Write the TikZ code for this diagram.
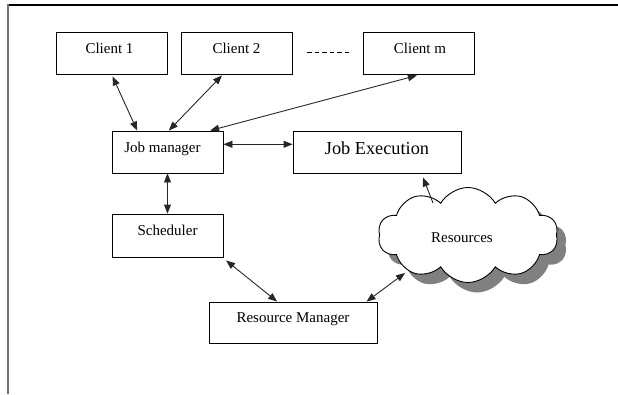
\documentclass[tikz,border=0pt]{standalone}
\usepackage{fontspec}
\setmainfont{Liberation Serif}
\usetikzlibrary{arrows.meta,shapes.symbols}
\begin{document}
\begin{tikzpicture}[x=1pt,y=-1pt,
  box/.style={draw=black,line width=0.9pt,rectangle,inner sep=0pt,
    minimum width=111pt,minimum height=42pt,
    font=\fontsize{15}{18}\selectfont,text height=6pt,text depth=6pt},
  conn/.style={draw=black!85,line width=0.9pt,{Triangle[length=9pt,width=7pt]}-{Triangle[length=9pt,width=7pt]}},
  oneway/.style={draw=black!85,line width=0.9pt,-{Triangle[length=9pt,width=7pt]}},
  cloudshape/.style={cloud,cloud puffs=10,cloud puff arc=120,cloud ignores aspect,
    minimum width=180pt,minimum height=95pt,inner sep=0pt}]
\useasboundingbox (0,0) rectangle (618,394);
% frame
\draw[black,line width=1.2pt] (8,5) -- (618,5);
\draw[black!55,line width=1.8pt] (8.3,4.4) -- (8.3,394);
% boxes
\node[box] (c1) at (111.5,53) {Client 1\hspace*{4pt}};
\node[box] (c2) at (236.5,53) {Client 2};
\node[box] (cm) at (418.5,53) {\hspace*{3pt}Client m};
\node[box] (jm) at (167.5,152) {Job manager\hspace*{10pt}};
\node[box,minimum width=168pt,font=\fontsize{18.3}{22}\selectfont,text height=8pt,text depth=4pt] (je) at (377,152) {Job Execution};
\node[box,minimum height=43pt] (sch) at (167.5,235.5) {Scheduler};
\node[box,minimum width=168pt,minimum height=41pt] (rm) at (293,322.5) {Resource Manager};
% cloud
\node[cloudshape,fill=black!50,draw=none] (cshadow) at (477,245) {};
\node[cloudshape,fill=white,draw=black,line width=0.9pt] (cl) at (468,235) {};
\node[anchor=base,inner sep=0pt,font=\fontsize{15}{18}\selectfont] (restext) at (462,242) {Resources};
% dashes
\draw[line width=0.8pt,dash pattern=on 4.5pt off 3pt] ([xshift=15pt,yshift=1pt]c2.east) -- ([xshift=-14pt,yshift=1pt]cm.west);
% connectors
\draw[conn] ([xshift=57pt,yshift=-2pt]c1.south west) -- ([xshift=25.6pt]jm.north west);
\draw[conn] ([xshift=41.4pt,yshift=-1pt]c2.south west) -- ([xshift=57.3pt]jm.north west);
\draw[conn] ([xshift=54.3pt,yshift=-1pt]cm.south west) -- ([xshift=98.6pt]jm.north west);
\draw[conn] ([yshift=7.7pt]jm.east) -- ([yshift=7.7pt]je.west);
\draw[conn] (jm.south) -- (sch.north);
\draw[oneway] ([xshift=-35pt,yshift=32pt]cl.center) -- ([xshift=46pt,yshift=-4pt]je.south);
\draw[conn] ([xshift=2.6pt,yshift=-3pt]sch.south east) -- ([xshift=68.6pt]rm.north west);
\draw[conn] ([xshift=-10.9pt]rm.north east) -- ([xshift=-63pt,yshift=-38pt]cl.center);
\end{tikzpicture}
\end{document}
